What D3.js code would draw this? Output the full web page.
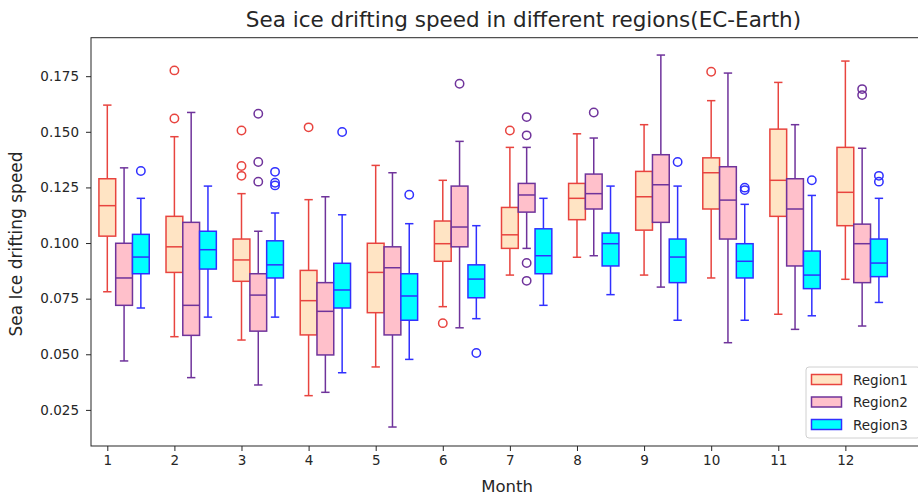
<!DOCTYPE html>
<html>
<head>
<meta charset="utf-8">
<script src="https://cdn.jsdelivr.net/npm/d3@7"></script>
<style>
    body { margin: 0; background: #fff; overflow: hidden; }
    svg { font-family: "DejaVu Sans", sans-serif; }
</style>
</head>
<body>
<svg id="drawing_region"></svg>
<script>
// months on the x axis
const months = [1, 2, 3, 4, 5, 6, 7, 8, 9, 10, 11, 12];
const yTicks = [0.025, 0.050, 0.075, 0.100, 0.125, 0.150, 0.175];
const regionNames = ['Region1', 'Region2', 'Region3'];

// [lower whisker, Q1, median, Q3, upper whisker] per month
const region1Stats = [
    [0.0781, 0.1031, 0.1168, 0.1289, 0.1620],
    [0.0579, 0.0868, 0.0983, 0.1120, 0.1478],
    [0.0564, 0.0828, 0.0924, 0.1018, 0.1222],
    [0.0314, 0.0587, 0.0741, 0.0877, 0.1195],
    [0.0443, 0.0687, 0.0868, 0.0999, 0.1349],
    [0.0714, 0.0918, 0.0997, 0.1099, 0.1282],
    [0.0856, 0.0976, 0.1037, 0.1160, 0.1430],
    [0.0936, 0.1105, 0.1201, 0.1268, 0.1491],
    [0.0856, 0.1058, 0.1208, 0.1322, 0.1532],
    [0.0843, 0.1153, 0.1316, 0.1383, 0.1640],
    [0.0680, 0.1120, 0.1282, 0.1512, 0.1722],
    [0.0837, 0.1078, 0.1228, 0.1430, 0.1818]
];
const region2Stats = [
    [0.0470, 0.0720, 0.0843, 0.0999, 0.1338],
    [0.0395, 0.0585, 0.0720, 0.1093, 0.1587],
    [0.0362, 0.0604, 0.0766, 0.0862, 0.1053],
    [0.0329, 0.0497, 0.0693, 0.0822, 0.1208],
    [0.0173, 0.0587, 0.0889, 0.0983, 0.1316],
    [0.0619, 0.0983, 0.1072, 0.1256, 0.1457],
    [0.0976, 0.1139, 0.1216, 0.1268, 0.1430],
    [0.0943, 0.1153, 0.1222, 0.1310, 0.1472],
    [0.0802, 0.1093, 0.1262, 0.1397, 0.1845],
    [0.0552, 0.1018, 0.1193, 0.1343, 0.1764],
    [0.0612, 0.0897, 0.1153, 0.1289, 0.1532],
    [0.0627, 0.0822, 0.0997, 0.1085, 0.1426]
];
const region3Stats = [
    [0.0708, 0.0862, 0.0937, 0.1039, 0.1201],
    [0.0667, 0.0883, 0.0970, 0.1053, 0.1256],
    [0.0667, 0.0843, 0.0902, 0.1010, 0.1135],
    [0.0417, 0.0708, 0.0789, 0.0909, 0.1127],
    [0.0477, 0.0653, 0.0762, 0.0862, 0.1087],
    [0.0660, 0.0754, 0.0838, 0.0902, 0.1078],
    [0.0720, 0.0862, 0.0943, 0.1064, 0.1201],
    [0.0768, 0.0897, 0.0997, 0.1045, 0.1256],
    [0.0653, 0.0822, 0.0937, 0.1018, 0.1256],
    [0.0653, 0.0843, 0.0918, 0.0997, 0.1174],
    [0.0673, 0.0795, 0.0856, 0.0964, 0.1214],
    [0.0733, 0.0849, 0.0910, 0.1018, 0.1201]
];

// fliers per month
const region1Outliers = [
    [], [0.1776, 0.1560], [0.1506, 0.1346, 0.1302], [0.1520], [], [0.0640],
    [0.1506], [], [], [0.1770], [], []
];
const region2Outliers = [
    [], [], [0.1581, 0.1364, 0.1276], [], [], [0.1716],
    [0.1566, 0.1484, 0.0910, 0.0830], [0.1587], [], [], [], [0.1692, 0.1665]
];
const region3Outliers = [
    [0.1324], [], [0.1320, 0.1271, 0.1259], [0.1499], [0.1217], [0.0506],
    [], [], [0.1364], [0.1249, 0.1238], [0.1282], [0.1302, 0.1276]
];

class boxChart {
    constructor(config) {
        this.config = {
            parent: config.parent,
            width: config.width || 256,
            height: config.height || 256,
            margin: config.margin || { top: 10, right: 10, bottom: 10, left: 10 }
        };
        this.init();
    }

    init() {
        let self = this;

        self.svg = d3.select(self.config.parent)
            .attr('width', self.config.width)
            .attr('height', self.config.height);
        self.chart = self.svg.append('g')
            .attr('transform', `translate(${self.config.margin.left}, ${self.config.margin.top})`);
        // the axes run a little past the right edge of the picture
        self.inner_width = self.config.width - self.config.margin.left - self.config.margin.right;
        self.inner_height = self.config.height - self.config.margin.top - self.config.margin.bottom;

        self.xscale = d3.scaleLinear()
            .domain([0.757, 13.157])
            .range([0, self.inner_width]);
        self.yscale = d3.scaleLinear()
            .domain([0.00877, 0.1923])
            .range([self.inner_height, 0]);

        self.regions = [
            { name: regionNames[0], stats: region1Stats, outliers: region1Outliers, offset: 0, fill: '#ffe4c4', stroke: '#e8443f' },
            { name: regionNames[1], stats: region2Stats, outliers: region2Outliers, offset: 0.25, fill: '#ffc0cb', stroke: '#6f339b' },
            { name: regionNames[2], stats: region3Stats, outliers: region3Outliers, offset: 0.5, fill: '#00ffff', stroke: '#3030ff' }
        ];
        self.boxWidth = 0.25;
    }

    render() {
        let self = this;
        let bw = self.xscale(self.boxWidth) - self.xscale(0);

        self.regions.forEach(function (r) {
            let group = self.chart.append('g');
            months.forEach(function (m, i) {
                let s = r.stats[i];
                let cx = self.xscale(m + r.offset);
                let g = group.append('g');

                // whiskers
                g.append('line')
                    .attr('x1', cx).attr('x2', cx)
                    .attr('y1', self.yscale(s[0])).attr('y2', self.yscale(s[1]))
                    .attr('stroke', r.stroke).attr('stroke-width', 1.5);
                g.append('line')
                    .attr('x1', cx).attr('x2', cx)
                    .attr('y1', self.yscale(s[3])).attr('y2', self.yscale(s[4]))
                    .attr('stroke', r.stroke).attr('stroke-width', 1.5);
                // caps
                [s[0], s[4]].forEach(function (v) {
                    g.append('line')
                        .attr('x1', cx - bw / 4).attr('x2', cx + bw / 4)
                        .attr('y1', self.yscale(v)).attr('y2', self.yscale(v))
                        .attr('stroke', r.stroke).attr('stroke-width', 1.5);
                });
                // box
                g.append('rect')
                    .attr('x', cx - bw / 2)
                    .attr('y', self.yscale(s[3]))
                    .attr('width', bw)
                    .attr('height', self.yscale(s[1]) - self.yscale(s[3]))
                    .attr('fill', r.fill)
                    .attr('stroke', r.stroke).attr('stroke-width', 1.5);
                // median
                g.append('line')
                    .attr('x1', cx - bw / 2).attr('x2', cx + bw / 2)
                    .attr('y1', self.yscale(s[2])).attr('y2', self.yscale(s[2]))
                    .attr('stroke', r.stroke).attr('stroke-width', 1.5);
                // outliers
                g.selectAll('.flier')
                    .data(r.outliers[i])
                    .enter().append('circle')
                    .attr('class', 'flier')
                    .attr('cx', cx)
                    .attr('cy', d => self.yscale(d))
                    .attr('r', 4.2)
                    .attr('fill', 'none')
                    .attr('stroke', r.stroke)
                    .attr('stroke-width', 1.5);
            });
        });

        // axes
        let xaxis = d3.axisBottom(self.xscale)
            .tickValues(months)
            .tickFormat(d3.format('d'))
            .tickSize(5).tickPadding(4);
        let yaxis = d3.axisLeft(self.yscale)
            .tickValues(yTicks)
            .tickFormat(d3.format('.3f'))
            .tickSize(5).tickPadding(7);

        let xg = self.chart.append('g')
            .attr('transform', `translate(0, ${self.inner_height})`)
            .call(xaxis);
        let yg = self.chart.append('g').call(yaxis);
        [xg, yg].forEach(function (ax) {
            ax.select('.domain').remove();
            ax.selectAll('text').attr('font-size', 13.5).attr('fill', '#262626')
                .attr('font-family', '"DejaVu Sans", sans-serif');
            ax.selectAll('line').attr('stroke', '#262626');
        });

        // frame
        self.chart.append('rect')
            .attr('width', self.inner_width)
            .attr('height', self.inner_height)
            .attr('fill', 'none')
            .attr('stroke', '#262626')
            .attr('stroke-width', 1);

        // title and labels
        self.svg.append('text')
            .attr('x', 523.5)
            .attr('y', 27)
            .attr('text-anchor', 'middle')
            .attr('font-size', 21.5)
            .attr('fill', '#262626')
            .text('Sea ice drifting speed in different regions(EC-Earth)');
        self.svg.append('text')
            .attr('x', 507)
            .attr('y', 492)
            .attr('text-anchor', 'middle')
            .attr('font-size', 16.5)
            .attr('fill', '#262626')
            .text('Month');
        self.svg.append('text')
            .attr('transform', 'translate(22, 244) rotate(-90)')
            .attr('text-anchor', 'middle')
            .attr('font-size', 17)
            .attr('fill', '#262626')
            .text('Sea Ice drifting speed');

        // legend
        let legend = self.svg.append('g')
            .attr('transform', 'translate(806, 367)');
        legend.append('rect')
            .attr('width', 114).attr('height', 71)
            .attr('rx', 3)
            .attr('fill', '#fff').attr('fill-opacity', 0.8)
            .attr('stroke', '#d0d0d0');
        self.regions.forEach(function (r, i) {
            legend.append('rect')
                .attr('x', 5.5).attr('y', 7.5 + i * 22.5)
                .attr('width', 30).attr('height', 10)
                .attr('fill', r.fill)
                .attr('stroke', r.stroke).attr('stroke-width', 1.5);
            legend.append('text')
                .attr('x', 47).attr('y', 17.5 + i * 22.5)
                .attr('font-size', 13.5)
                .attr('fill', '#262626')
                .text(r.name);
        });
    }
}

let config = {
    parent: '#drawing_region',
    width: 918,
    height: 497,
    margin: { top: 37.7, right: -5, bottom: 51, left: 91 }
};
const box_chart = new boxChart(config);
box_chart.render();
</script>
</body>
</html>
